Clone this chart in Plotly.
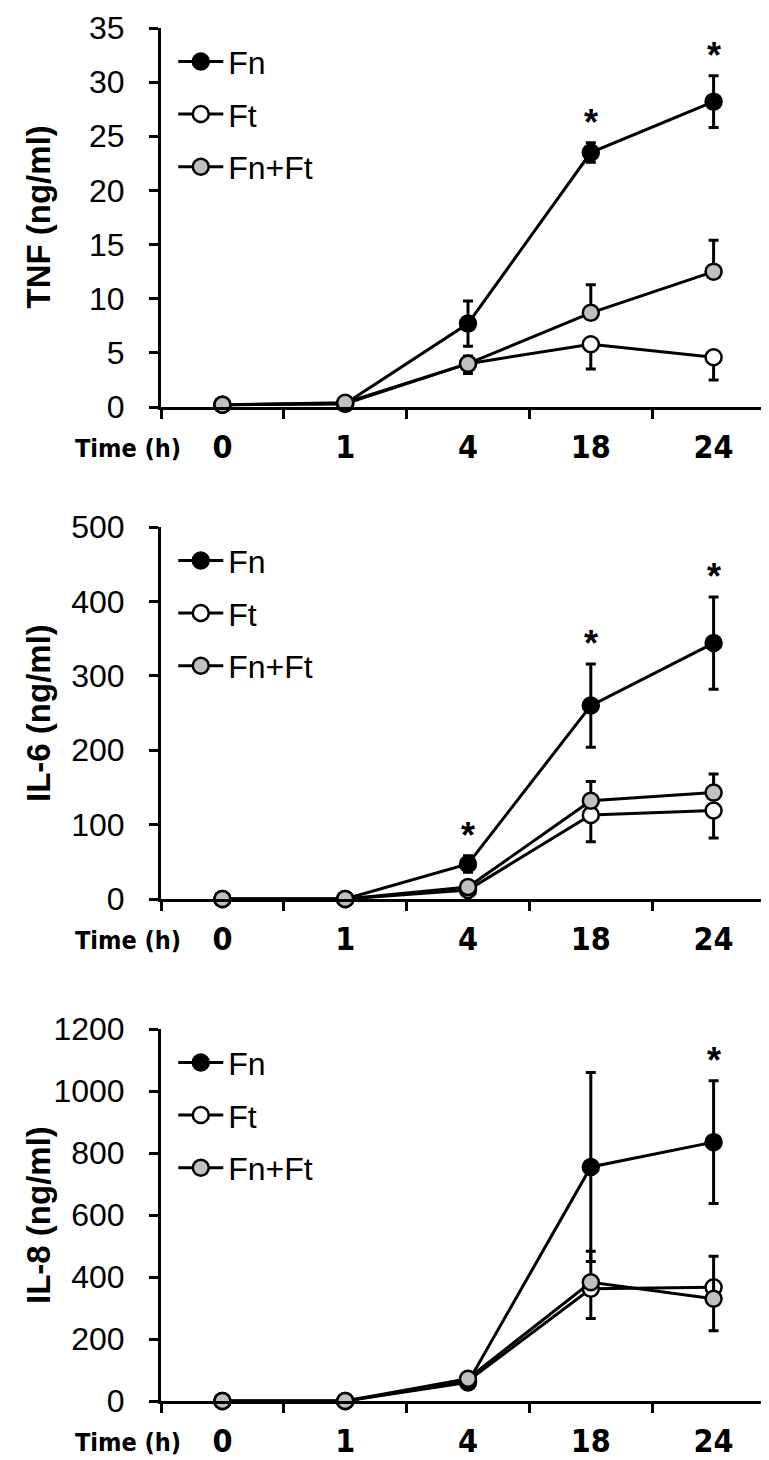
import plotly.graph_objects as go

# ---------------- data ----------------
times = ["0", "1", "4", "18", "24"]
series_names = ["Fn", "Ft", "Fn+Ft"]

tnf_fn = [0.2, 0.3, 7.7, 23.5, 28.2]
tnf_fn_err = [0.05, 0.1, 2.1, 0.9, 2.4]
tnf_ft = [0.2, 0.3, 4.0, 5.8, 4.6]
tnf_ft_err = [0.05, 0.1, 0.9, 2.3, 2.1]
tnf_fnft = [0.2, 0.4, 4.0, 8.7, 12.5]
tnf_fnft_err = [0.05, 0.1, 0.7, 2.6, 2.9]

il6_fn = [0, 0, 47, 260, 344]
il6_fn_err = [0, 0, 11, 56, 62]
il6_ft = [0, 0, 12, 113, 119]
il6_ft_err = [0, 0, 3, 36, 37]
il6_fnft = [0, 0, 16, 132, 143]
il6_fnft_err = [0, 0, 4, 26, 25]

il8_fn = [0, 0, 60, 755, 835]
il8_fn_err = [0, 0, 10, 305, 198]
il8_ft = [0, 0, 65, 362, 367]
il8_ft_err = [0, 0, 8, 96, 140]
il8_fnft = [0, 0, 72, 383, 330]
il8_fnft_err = [0, 0, 8, 100, 137]

tnf_stars = ["18", "24"]
il6_stars = ["4", "18", "24"]
il8_stars = ["24"]

y_titles = ["TNF (ng/ml)", "IL-6 (ng/ml)", "IL-8 (ng/ml)"]
y_max = [35, 500, 1200]
y_dtick = [5, 100, 200]
x_label = "Time (h)"

# ---------------- figure ----------------
W, H = 769, 1460
ML, MR, MT, MB = 153, 2, 20, 67
plot_h = H - MT - MB
plot_w = W - ML - MR

def frac(px):
    return (H - MB - px) / plot_h

domains = [[frac(399), 1.0], [frac(891), frac(519)], [0.0, frac(1021)]]

panels = [
    dict(vals=[tnf_fn, tnf_ft, tnf_fnft], errs=[tnf_fn_err, tnf_ft_err, tnf_fnft_err], stars=tnf_stars),
    dict(vals=[il6_fn, il6_ft, il6_fnft], errs=[il6_fn_err, il6_ft_err, il6_fnft_err], stars=il6_stars),
    dict(vals=[il8_fn, il8_ft, il8_fnft], errs=[il8_fn_err, il8_ft_err, il8_fnft_err], stars=il8_stars),
]

fills = ["black", "white", "#c0c0c0"]
FONT = "Liberation Sans, Arial, sans-serif"
NARROW = "DejaVu Sans Condensed, Liberation Sans Narrow, Arial Narrow, Liberation Sans, sans-serif"

fig = go.Figure()
annotations = []
for p, panel in enumerate(panels):
    sfx = "" if p == 0 else str(p + 1)
    xa, ya = "x" + sfx, "y" + sfx
    legend_name = "legend" + sfx
    for s in range(3):
        vals = panel["vals"][s]
        err = panel["errs"][s]
        zeros = [0] * len(err)
        if s == 0:
            up, down = err, err
        elif s == 1:
            up, down = zeros, err
        else:
            up, down = err, zeros
        fig.add_trace(go.Scatter(
            x=times, y=vals, name=series_names[s], mode="lines+markers",
            xaxis=xa, yaxis=ya, legend=legend_name, legendgroup="p%d_s%d" % (p, s),
            cliponaxis=False,
            line=dict(color="black", width=3),
            marker=dict(symbol="circle", size=16, color=fills[s],
                        line=dict(color="black", width=2.5)),
            error_y=dict(type="data", symmetric=False, array=up, arrayminus=down,
                         color="black", thickness=3, width=5),
        ))
    # significance stars above Fn
    fn_vals, fn_err = panel["vals"][0], panel["errs"][0]
    for t in panel["stars"]:
        i = times.index(t)
        annotations.append(dict(
            x=i, y=fn_vals[i] + fn_err[i], xref=xa, yref=ya, text="<b>*</b>",
            showarrow=False, xanchor="center", yanchor="middle", yshift=20,
            font=dict(family=FONT, size=36, color="black")))
    # y title
    annotations.append(dict(
        x=(30 - ML) / plot_w, y=0.5, xref="paper", yref=ya + " domain",
        text="<b>" + y_titles[p] + "</b>", textangle=-90, showarrow=False,
        xanchor="center", yanchor="middle",
        font=dict(family=FONT, size=33, color="black")))
    # Time (h)
    annotations.append(dict(
        x=(120 - ML) / plot_w, y=0, xref="paper", yref=ya + " domain",
        text="<b>" + x_label + "</b>", showarrow=False, xanchor="center",
        yanchor="middle", yshift=-41,
        font=dict(family=NARROW, size=25, color="black")))

    xaxis = dict(
        type="category", categoryorder="array", categoryarray=times,
        range=[-0.5, 4.5], anchor=ya, showline=True, linecolor="black", linewidth=3,
        ticks="outside", tickson="boundaries", ticklen=9, tickwidth=3, tickcolor="black",
        showgrid=False, zeroline=False, ticklabelstandoff=10,
        tickfont=dict(family=NARROW, size=32, color="black", weight="bold"),
    )
    yaxis = dict(
        domain=domains[p], anchor=xa, range=[0, y_max[p]], dtick=y_dtick[p],
        showline=True, linecolor="black", linewidth=3, ticks="outside",
        ticklen=9, tickwidth=3, tickcolor="black", showgrid=False, zeroline=False,
        ticklabelstandoff=18,
        tickfont=dict(family=FONT, size=32, color="black"),
    )
    fig.layout["xaxis" + sfx] = xaxis
    fig.layout["yaxis" + sfx] = yaxis
    leg_top = domains[p][1]
    fig.layout[legend_name] = dict(
        x=0.02, y=leg_top - 0.0045, xanchor="left", yanchor="top",
        bgcolor="rgba(0,0,0,0)", itemwidth=45, tracegroupgap=8,
        font=dict(family=FONT, size=32, color="black"),
    )

fig.update_layout(
    width=W, height=H, margin=dict(l=ML, r=MR, t=MT, b=MB),
    paper_bgcolor="white", plot_bgcolor="white",
    annotations=annotations, showlegend=True,
)

fig.write_html("out.html")
